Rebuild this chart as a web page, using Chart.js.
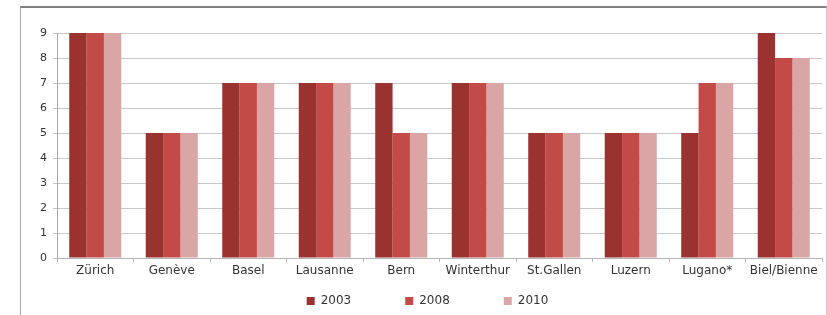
<!DOCTYPE html>
<html>
<head>
<meta charset="utf-8">
<script src="https://cdn.jsdelivr.net/npm/chart.js@4/dist/chart.umd.min.js"></script>
<style>
  html, body { margin: 0; padding: 0; background: #fff; width: 827px; height: 315px; overflow: hidden; }
  #frame { position: absolute; left: 20px; top: 6px; width: 805px; height: 309px;
           border-top: 2px solid #808080; border-left: 1px solid #a6a6a6; border-right: 1px solid #c8c8c8; }
  #wrap { position: absolute; left: 0; top: 0; width: 805px; height: 307px; }
</style>
</head>
<body>
<div id="frame"><div id="wrap"><canvas id="c" width="805" height="307"></canvas></div></div>
<script>
const categories = ['Zürich', 'Genève', 'Basel', 'Lausanne', 'Bern', 'Winterthur', 'St.Gallen', 'Luzern', 'Lugano*', 'Biel/Bienne'];
const values2003 = [9, 5, 7, 7, 7, 7, 5, 5, 5, 9];
const values2008 = [9, 5, 7, 7, 5, 7, 5, 5, 7, 8];
const values2010 = [9, 5, 7, 7, 5, 7, 5, 5, 7, 8];
const seriesLabels = ['2003', '2008', '2010'];
const yTicks = [0, 1, 2, 3, 4, 5, 6, 7, 8, 9];

const colors = ['#9a3230', '#c24b48', '#d9a6a5'];
const FONT = 'DejaVu Sans';

const legendMove = {
  id: 'legendMove',
  afterLayout(chart) {
    const lg = chart.legend;
    if (!lg) return;
    lg.top = 233;
    lg.bottom = 307;
    lg.height = 74;
    lg.left += 6;
    lg.right += 6;
  }
};

new Chart(document.getElementById('c'), {
  type: 'bar',
  data: {
    labels: categories,
    datasets: [values2003, values2008, values2010].map((d, i) => ({
      label: seriesLabels[i],
      data: d,
      backgroundColor: colors[i],
      borderWidth: 0,
      categoryPercentage: 0.68,
      barPercentage: 1.0
    }))
  },
  options: {
    responsive: false,
    animation: false,
    devicePixelRatio: 1,
    layout: { padding: { top: 25, right: 4, left: 0, bottom: 0 } },
    plugins: {
      title: { display: false },
      tooltip: { enabled: false },
      legend: {
        position: 'bottom',
        maxHeight: 22,
        labels: {
          boxWidth: 8, boxHeight: 8, padding: 54,
          color: '#333333',
          font: { family: FONT, size: 12 }
        }
      }
    },
    scales: {
      x: {
        afterFit: s => { s.height = 35; },
        grid: { display: true, drawOnChartArea: false, drawTicks: true, tickLength: 4, color: '#b4b4b4', offset: true },
        border: { display: true, color: '#b4b4b4' },
        ticks: { color: '#333333', font: { family: FONT, size: 12 }, padding: 2, maxRotation: 0, autoSkip: false }
      },
      y: {
        min: 0, max: 9,
        afterFit: s => { s.width = 36; },
        afterBuildTicks: s => { s.ticks = yTicks.map(v => ({ value: v })); },
        grid: { color: '#c8c8c8', lineWidth: 1, tickLength: 4, drawTicks: true },
        border: { display: true, color: '#a6a6a6' },
        ticks: { color: '#333333', font: { family: FONT, size: 11 }, padding: 6 }
      }
    }
  },
  plugins: [legendMove]
});
</script>
</body>
</html>
